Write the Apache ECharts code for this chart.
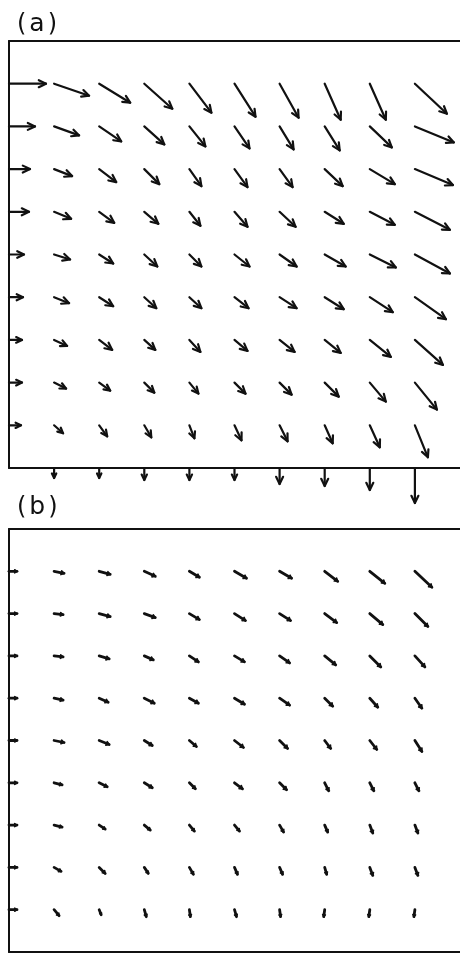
<!DOCTYPE html>
<html>
<head>
<meta charset="utf-8">
<script src="https://cdn.jsdelivr.net/npm/echarts@6/dist/echarts.min.js"></script>
<style>
  html, body { margin: 0; padding: 0; background: #fff; }
  #chart { width: 460px; height: 954px; }
</style>
</head>
<body>
<div id="chart"></div>
<script>
// Grid node positions (axis units); rows are listed from top (y = 9) to bottom (y = 0)
const xLevels = [0, 1, 2, 3, 4, 5, 6, 7, 8, 9];
const yLevels = [9, 8, 7, 6, 5, 4, 3, 2, 1, 0];

// Panel (a): velocity components at each node (u eastward, v northward)
const aU = [
  [37, 35, 31, 28, 22, 21, 19, 16, 16, 32],
  [26, 25, 22, 20, 16, 15, 14, 15, 22, 39],
  [21, 18, 17, 15, 12, 13, 13, 18, 25, 38],
  [20, 17, 15, 14, 11, 13, 16, 19, 25, 35],
  [15, 16, 14, 13, 12, 15, 17, 21, 26, 35],
  [14, 15, 14, 12, 12, 14, 17, 19, 23, 31],
  [13, 13, 13, 11, 11, 13, 15, 16, 21, 28],
  [13, 12, 11, 10,  9, 11, 12, 14, 16, 22],
  [12,  9,  8,  7,  5,  7,  8,  8, 10, 13],
  [ 0,  0,  0,  0,  0,  0,  0,  0,  0,  0]
];
const aV = [
  [0, -12, -19, -25, -29, -33, -34, -36, -36, -30],
  [0,  -9, -15, -18, -20, -22, -23, -24, -21, -16],
  [0,  -7, -13, -15, -17, -18, -18, -17, -15, -16],
  [0,  -7, -11, -12, -14, -15, -15, -12, -13, -18],
  [0,  -5,  -9, -12, -12, -12, -12, -12, -13, -19],
  [0,  -6,  -9, -11, -11, -11, -11, -12, -15, -22],
  [0,  -6, -10, -10, -12, -11, -12, -13, -17, -25],
  [0,  -6,  -8, -10, -11, -11, -12, -14, -19, -27],
  [0,  -8, -11, -12, -13, -15, -16, -18, -22, -32],
  [0, -10, -10, -12, -12, -12, -16, -18, -22, -35]
];

// Panel (b): velocity components at each node
const bU = [
  [8, 10, 11, 11, 10, 12, 12, 13, 15, 17],
  [8,  9, 11, 11, 10, 11, 11, 12, 13, 13],
  [8,  9, 10,  9,  9, 10, 10, 11, 11, 10],
  [8,  9,  9, 10,  9, 10, 10,  8,  8,  7],
  [8, 10, 10,  8,  7,  9,  8,  6,  7,  7],
  [8,  8,  8,  8,  6,  8,  7,  4,  4,  4],
  [8,  8,  6,  6,  5,  5,  4,  3,  3,  3],
  [8,  7,  6,  4,  4,  3,  3,  2,  3,  3],
  [8,  5,  2,  2,  1,  2,  1, -1, -1, -1],
  [0,  0,  0,  0,  0,  0,  0,  0,  0,  0]
];
const bV = [
  [0, -2, -3, -5, -6, -7, -7, -10, -12, -16],
  [0, -1, -3, -4, -6, -7, -7,  -9, -11, -13],
  [0, -1, -3, -4, -6, -6, -7,  -9, -11, -11],
  [0, -2, -4, -5, -5, -6, -7,  -8,  -9, -10],
  [0, -2, -4, -5, -6, -7, -8,  -8,  -9, -11],
  [0, -2, -4, -5, -6, -6, -7,  -8,  -8,  -8],
  [0, -2, -4, -5, -6, -6, -7,  -7,  -8,  -8],
  [0, -4, -6, -6, -7, -7, -7,  -7,  -8,  -8],
  [0, -6, -5, -7, -7, -7, -7,  -7,  -7,  -7],
  [0,  0,  0,  0,  0,  0,  0,  0,  0,  0]
];

const panelTitles = [['(', 'a', ')'], ['(', 'b', ')']];

// Arrow length on screen (px) per unit of velocity
const ARROW_SCALE = 1;

function buildNodes(U, V) {
  const out = [];
  yLevels.forEach((y, r) => {
    xLevels.forEach((x, c) => {
      out.push([x, y, U[r][c], V[r][c]]);
    });
  });
  return out;
}

function quiverRenderer(opts) {
  return function (params, api) {
    const x = api.value(0), y = api.value(1);
    const u = api.value(2), v = api.value(3);
    const len = Math.hypot(u, v) * ARROW_SCALE;
    if (len < 0.5) return null;
    const p0 = api.coord([x, y]);
    const p1 = [p0[0] + u * ARROW_SCALE, p0[1] - v * ARROW_SCALE];
    const ang = Math.atan2(p1[1] - p0[1], p1[0] - p0[0]);
    const h = Math.min(opts.headMax, len * opts.headFrac);
    const a = opts.headAngle;
    const b1 = [p1[0] - h * Math.cos(ang - a), p1[1] - h * Math.sin(ang - a)];
    const b2 = [p1[0] - h * Math.cos(ang + a), p1[1] - h * Math.sin(ang + a)];
    const style = { stroke: '#111', lineWidth: opts.lineWidth, fill: null, lineCap: 'round', lineJoin: 'round' };
    const children = [
      { type: 'line', shape: { x1: p0[0], y1: p0[1], x2: p1[0], y2: p1[1] }, style: style }
    ];
    if (opts.filledHead) {
      children.push({ type: 'polygon', shape: { points: [b1, p1, b2] },
        style: { fill: '#111', stroke: '#111', lineWidth: 1.5, lineJoin: 'round' } });
    } else {
      children.push({ type: 'polyline', shape: { points: [b1, p1, b2] }, style: style });
    }
    return { type: 'group', children: children };
  };
}

// Frame: bottom and top edges from x axes, left edge from the y axis
const frameLine = { show: true, onZero: false, lineStyle: { color: '#111', width: 2 } };
function xAxes(gridIndex) {
  return ['bottom', 'top'].map(pos => ({
    type: 'value', gridIndex: gridIndex, position: pos, min: 0, max: 10, interval: 1,
    axisLine: frameLine, axisTick: { show: false }, axisLabel: { show: false }, splitLine: { show: false }
  }));
}
function yAxis(gridIndex) {
  return {
    type: 'value', gridIndex: gridIndex, position: 'left', min: 0, max: 10, interval: 1,
    axisLine: frameLine, axisTick: { show: false }, axisLabel: { show: false }, splitLine: { show: false }
  };
}

function titleGraphic(parts, top) {
  return {
    type: 'text', left: 17, top: top,
    style: {
      text: '{p|' + parts[0] + '}{l|' + parts[1] + '}{p|' + parts[2] + '}',
      rich: {
        p: { fontFamily: 'DejaVu Sans', fontSize: 24, fill: '#111' },
        l: { fontFamily: 'DejaVu Sans', fontSize: 25, fill: '#111', padding: [0, 3, 0, 3] }
      }
    }
  };
}

const chart = echarts.init(document.getElementById('chart'), null, { renderer: 'canvas' });

chart.setOption({
  animation: false,
  backgroundColor: '#fff',
  grid: [
    { left: 9, right: -3, top: 41, height: 427 },
    { left: 9, right: -3, top: 529, height: 423 }
  ],
  xAxis: xAxes(0).concat(xAxes(1)),
  yAxis: [yAxis(0), yAxis(1)],
  graphic: [titleGraphic(panelTitles[0], 12), titleGraphic(panelTitles[1], 495)],
  series: [
    {
      type: 'custom', xAxisIndex: 0, yAxisIndex: 0, clip: false,
      renderItem: quiverRenderer({ lineWidth: 2.2, headMax: 8, headFrac: 0.5, headAngle: 0.45, filledHead: false }),
      data: buildNodes(aU, aV)
    },
    {
      type: 'custom', xAxisIndex: 2, yAxisIndex: 1, clip: false,
      renderItem: quiverRenderer({ lineWidth: 2.8, headMax: 3.5, headFrac: 0.35, headAngle: 0.6, filledHead: true }),
      data: buildNodes(bU, bV)
    }
  ]
});
</script>
</body>
</html>
